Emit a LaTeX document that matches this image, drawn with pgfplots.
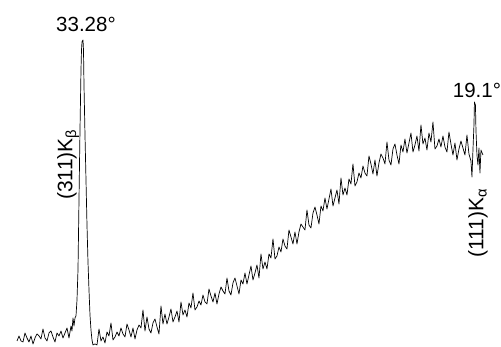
\documentclass[border=0pt]{standalone}
\usepackage{pgfplots}
\pgfplotsset{compat=1.18}
\usepackage{fontspec}
\setmainfont{Liberation Sans}
\newcommand\lblfont{\fontsize{20.5bp}{24bp}\selectfont}
\newcommand\rotfont{\fontsize{21bp}{24bp}\selectfont}
\begin{document}
\begin{tikzpicture}
\begin{axis}[
  scale only axis, width=501bp, height=347bp,
  xmin=0, xmax=501, ymin=0, ymax=347, y dir=reverse,
  hide axis, clip=false,
]
\addplot[draw=none] coordinates {(0,0) (501,347)};
\addplot[black, line width=0.7pt, line join=round] coordinates {
(17,341)(19,336)(21,341)(23,342)(25,333)(27,338)(29,342)(31,336)(33,344)(35,338)
(37,334)(39,336)(41,339)(43,329)(45,338)(47,341)(49,333)(51,331)(53,337)(55,342)
(57,333)(59,336)(61,331)(63,338)(65,333)(67,328)(69,338)(71,326)(72,331)(73,318)
(74,326)(75,318)(76,316)(77,300)(78,270)(79,200)(80,130)(81,70)(81.5,50)(82,42)
(83,40)(83.5,50)(84,85)(85,135)(86,180)(87,225)(88,262)(89,290)(90,315)(91,330)
(92,340)(93,345)(95,344)(97,345)(99,329)(101,341)(103,337)(105,343)(107,332)(109,336)
(111,323)(113,340)(115,337)(117,332)(119,336)(121,328)(123,334)(125,337)(127,324)(129,330)
(131,337)(133,328)(135,339)(137,330)(139,325)(141,328)(143,310)(145,331)(147,317)(149,329)
(151,333)(153,323)(155,319)(157,327)(159,334)(161,306)(163,324)(165,314)(167,324)(169,317)
(171,309)(173,322)(175,317)(177,311)(179,322)(181,302)(183,315)(185,310)(187,317)(189,303)
(191,308)(193,293)(195,310)(197,307)(199,301)(201,305)(203,295)(205,302)(207,304)(209,289)
(211,296)(213,302)(215,293)(217,304)(219,294)(221,287)(223,291)(225,294)(227,278)(229,291)
(231,295)(233,283)(235,278)(237,286)(239,294)(241,280)(243,284)(245,273)(247,284)(249,275)
(251,266)(253,280)(255,273)(257,265)(259,278)(261,254)(263,269)(265,262)(267,269)(269,254)
(271,258)(273,239)(275,259)(277,256)(279,247)(281,252)(283,239)(285,246)(287,249)(289,230)
(291,237)(293,244)(295,232)(297,244)(299,232)(301,224)(303,227)(305,230)(307,210)(309,225)
(311,228)(313,213)(315,207)(317,215)(319,224)(321,206)(323,211)(325,198)(327,209)(329,199)
(331,189)(333,206)(335,198)(337,190)(339,204)(341,178)(343,195)(345,188)(347,195)(349,179)
(351,184)(353,164)(355,186)(357,182)(359,173)(361,178)(363,166)(365,173)(367,176)(369,156)
(371,164)(373,174)(375,160)(377,176)(379,163)(381,154)(383,158)(385,164)(387,142)(389,160)
(391,165)(393,149)(395,144)(397,155)(399,164)(401,145)(403,152)(405,139)(407,153)(409,143)
(411,133)(413,152)(415,145)(417,136)(419,151)(421,125)(423,144)(425,138)(427,150)(429,133)
(431,142)(433,122)(435,149)(437,146)(439,139)(441,147)(443,136)(445,147)(447,152)(449,132)
(451,144)(453,155)(455,143)(457,160)(459,149)(461,141)(463,148)(465,155)(467,135)(469,154)
(471,161)(472,177)(473,150)(474,125)(474.5,102)(475.5,105)(476,130)(477,155)(478,165)(479,148)(480,173)
(481,150)(483,155)
};
\node[font=\lblfont, inner sep=0pt, anchor=base] at (axis cs:86,32) {33.28°};
\node[font=\lblfont, inner sep=0pt, anchor=base] at (axis cs:477,98) {19.1°};
\node[font=\rotfont, inner sep=0pt, anchor=base west, rotate=90] at (axis cs:72.5,200) {(311)K\textsubscript{β}};
\node[font=\rotfont, inner sep=0pt, anchor=base west, rotate=90] at (axis cs:483.5,258) {(111)K\textsubscript{α}};
\end{axis}
\end{tikzpicture}
\end{document}
